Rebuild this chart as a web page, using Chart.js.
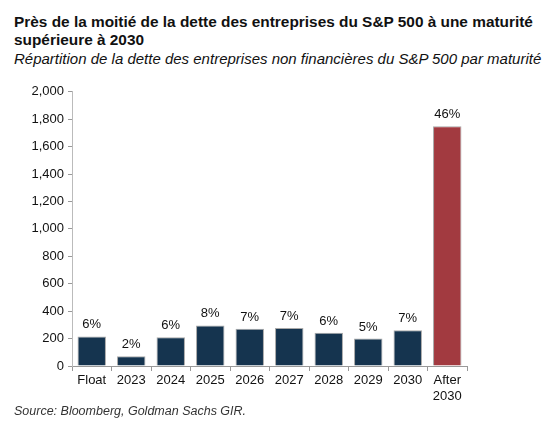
<!DOCTYPE html>
<html>
<head>
<meta charset="utf-8">
<script src="https://cdn.jsdelivr.net/npm/chart.js@4"></script>
<style>
  body { margin: 0; background: #fff; font-family: "Liberation Sans", Arial, sans-serif; }
  #wrap { position: relative; width: 556px; height: 447px; }
  .t { position: absolute; left: 14px; color: #111; white-space: nowrap; }
  #title { top: 13px; font-size: 15.4px; font-weight: bold; line-height: 18px; }
  #sub { top: 50px; font-size: 15px; font-style: italic; }
  #src { top: 404px; font-size: 12.5px; font-style: italic; color: #333; left: 14px; }
  #box { position: absolute; left: 0; top: 80px; width: 556px; height: 330px; }
</style>
</head>
<body>
<div id="wrap">
  <div class="t" id="title">Près de la moitié de la dette des entreprises du S&amp;P 500 à une maturité<br>supérieure à 2030</div>
  <div class="t" id="sub">Répartition de la dette des entreprises non financières du S&amp;P 500 par maturité</div>
  <div id="box"><canvas id="debt" width="556" height="330"></canvas></div>
  <div class="t" id="src">Source: Bloomberg, Goldman Sachs GIR.</div>
</div>
<script>
const categories = ["Float", "2023", "2024", "2025", "2026", "2027", "2028", "2029", "2030", ["After", "2030"]];
const debtValues = [216, 71, 209, 296, 272, 277, 243, 200, 260, 1748];
const shareLabels = ["6%", "2%", "6%", "8%", "7%", "7%", "6%", "5%", "7%", "46%"];
const yTicks = [0, 200, 400, 600, 800, 1000, 1200, 1400, 1600, 1800, 2000];

const navy = "#15344f";
const red = "#a23a40";
const barColors = debtValues.map((v, i) => i === debtValues.length - 1 ? red : navy);

// percentage labels above each bar
const shareLabelPlugin = {
  id: "shareLabels",
  afterDatasetsDraw(chart) {
    const ctx = chart.ctx;
    const meta = chart.getDatasetMeta(0);
    ctx.save();
    ctx.font = "13px 'Liberation Sans', Arial, sans-serif";
    ctx.fillStyle = "#111";
    ctx.textAlign = "center";
    ctx.textBaseline = "bottom";
    meta.data.forEach((bar, i) => {
      ctx.fillText(shareLabels[i], bar.x, bar.y - 5);
    });
    ctx.restore();
  }
};

const ctx = document.querySelector("#debt");
const debtChart = new Chart(ctx, {
  type: "bar",
  data: {
    labels: categories,
    datasets: [{
      data: debtValues,
      backgroundColor: barColors,
      borderColor: "#a9a9a9",
      borderWidth: 1,
      categoryPercentage: 1,
      barPercentage: 0.72
    }]
  },
  options: {
    responsive: false,
    animation: false,
    layout: { padding: { left: 10, right: 89, top: 11, bottom: 4 } },
    plugins: { legend: { display: false }, tooltip: { enabled: false } },
    scales: {
      x: {
        afterFit: s => { s.height = 40; },
        grid: { drawOnChartArea: false, color: "#999", tickLength: 5, offset: true },
        border: { color: "#999" },
        ticks: { color: "#111", font: { family: "'Liberation Sans', Arial, sans-serif", size: 13 }, padding: 2, maxRotation: 0, autoSkip: false }
      },
      y: {
        min: 0,
        max: 2000,
        afterFit: s => { s.width = 62; },
        afterBuildTicks: s => { s.ticks = yTicks.map(v => ({ value: v })); },
        grid: { drawOnChartArea: false, color: "#999", tickLength: 4 },
        border: { color: "#bbb", width: 1 },
        ticks: {
          color: "#111",
          font: { family: "'Liberation Sans', Arial, sans-serif", size: 13 },
          padding: 4,
          callback: v => v.toLocaleString("en-US")
        }
      }
    }
  },
  plugins: [shareLabelPlugin]
});
</script>
</body>
</html>
